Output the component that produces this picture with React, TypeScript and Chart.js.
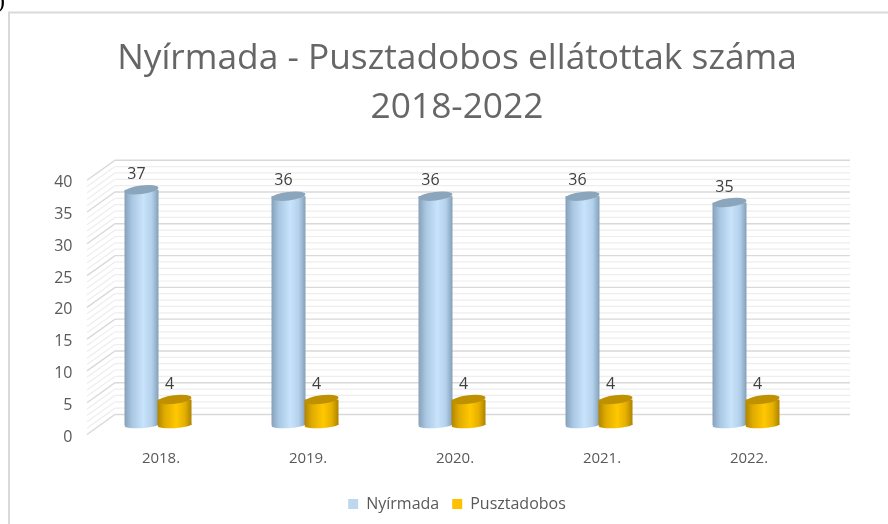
import React, { useEffect, useRef } from "react";
import { Chart, registerables } from "chart.js";

Chart.register(...registerables);

const categories = ["2018.", "2019.", "2020.", "2021.", "2022."];
const nyirmada = [37, 36, 36, 36, 35];
const pusztadobos = [4, 4, 4, 4, 4];
const titleLines = ["Nyírmada - Pusztadobos ellátottak száma", "2018-2022"];
const FONT = '"Open Sans", sans-serif';

const shades = [
  { stops: ["#86a0b8", "#a9c7e3", "#c8e3fb", "#b4d1ec", "#84a0b8"], top: "#8aa5bc" },
  { stops: ["#b08500", "#e0ac00", "#ffc800", "#e6b000", "#ad8300"], top: "#bf9000" },
];

const scene = {
  id: "scene",
  beforeDraw(chart: any) {
    const { ctx } = chart;
    ctx.save();
    ctx.fillStyle = "#fff";
    ctx.fillRect(0, 0, 888, 524);
    ctx.strokeStyle = "#d9d9d9";
    ctx.lineWidth = 2;
    ctx.strokeRect(9, 12.5, 900, 540);
    ctx.fillStyle = "#000";
    ctx.font = "24px 'Liberation Serif'";
    ctx.textBaseline = "alphabetic";
    ctx.fillText(")", -3, 8);
    ctx.restore();
  },
  beforeDatasetsDraw(chart: any) {
    const { ctx, scales } = chart;
    const y = scales.y;
    const frontX = 87, backX = 115, endX = 850;
    ctx.save();
    for (const major of [false, true]) {
      for (let v = 0; v <= 40; v++) {
        if ((v % 5 === 0) !== major) continue;
        const p = y.getPixelForValue(v);
        ctx.strokeStyle = major ? "#d9d9d9" : "#eeeeee";
        ctx.lineWidth = major ? 1.4 : 1.2;
        ctx.beginPath();
        ctx.moveTo(frontX, p + 9.5);
        ctx.lineTo(backX, p - 10.5);
        ctx.lineTo(endX, p - 10.5);
        ctx.stroke();
      }
    }
    chart.data.datasets.forEach((ds: any, i: number) => {
      const shade = shades[i];
      chart.getDatasetMeta(i).data.forEach((el: any) => {
        const left = el.x - el.width / 2;
        const rx = el.width / 2;
        const g = ctx.createLinearGradient(left, 0, left + el.width, 0);
        [0, 0.22, 0.55, 0.8, 1].forEach((s, k) => g.addColorStop(s, shade.stops[k]));
        ctx.fillStyle = g;
        ctx.fillRect(left, el.y, el.width, el.base - el.y);
        ctx.beginPath();
        ctx.ellipse(el.x, el.base, rx, 3.2, -0.06, 0, Math.PI * 2);
        ctx.fill();
        ctx.fillStyle = shade.top;
        ctx.beginPath();
        ctx.ellipse(el.x, el.y, rx, 4.3, -0.12, 0, Math.PI * 2);
        ctx.fill();
      });
    });
    ctx.fillStyle = "#404040";
    ctx.font = `16px ${FONT}`;
    ctx.textAlign = "center";
    ctx.textBaseline = "middle";
    chart.data.datasets.forEach((ds: any, i: number) => {
      chart.getDatasetMeta(i).data.forEach((el: any, j: number) => {
        ctx.fillText(String(ds.data[j]), el.x - 5, el.y - 15.5);
      });
    });
    ctx.restore();
    return false;
  },
};

export default function App() {
  const ref = useRef<HTMLCanvasElement>(null);
  useEffect(() => {
    const chart = new Chart(ref.current!, {
      type: "bar",
      data: {
        labels: categories,
        datasets: [
          { label: "Nyírmada", data: nyirmada, backgroundColor: "#bdd7ee", categoryPercentage: 0.449, barPercentage: 1.03 },
          { label: "Pusztadobos", data: pusztadobos, backgroundColor: "#ffc000", categoryPercentage: 0.449, barPercentage: 1.03 },
        ],
      },
      options: {
        responsive: false,
        animation: false,
        layout: { padding: { left: 26, right: 0, top: 0, bottom: 2 } },
        plugins: {
          tooltip: { enabled: false },
          title: {
            display: true,
            text: titleLines,
            color: "#666666",
            font: { family: FONT, size: 35.3, weight: "normal", lineHeight: 1.37 },
            padding: { top: 35, bottom: 39 },
          },
          legend: {
            position: "bottom",
            labels: {
              color: "#595959",
              font: { family: FONT, size: 16 },
              boxWidth: 10,
              boxHeight: 10,
              padding: 13,
            },
          },
        },
        scales: {
          x: {
            grid: { display: false, drawTicks: false },
            border: { display: false },
            ticks: { color: "#595959", font: { family: FONT, size: 15 }, padding: 24.5, labelOffset: 3, maxRotation: 0 },
            afterFit(s: any) { s.height = 58; },
          },
          y: {
            min: 0,
            max: 40,
            grid: { display: false, drawTicks: false },
            border: { display: false },
            ticks: { stepSize: 5, color: "#595959", font: { family: FONT, size: 16 }, padding: 12, labelOffset: 12 },
            afterFit(s: any) { s.width = 58.5; },
          },
          spacer: {
            position: "right",
            display: true,
            grid: { display: false, drawTicks: false },
            border: { display: false },
            ticks: { display: false },
            afterFit(s: any) { s.width = 68.5; },
          },
        },
      } as any,
      plugins: [scene],
    });
    return () => chart.destroy();
  }, []);
  return (
    <div style={{ position: "fixed", left: 0, top: 0 }}>
      <canvas ref={ref} width={888} height={524} style={{ display: "block" }} />
    </div>
  );
}
